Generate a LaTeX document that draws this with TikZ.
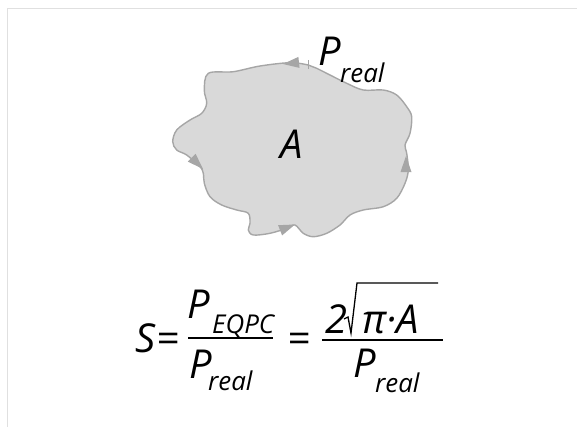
\documentclass[tikz,border=0pt]{standalone}
\usepackage{fontspec}
\setmainfont{Open Sans}
\definecolor{blobfill}{HTML}{D9D9D9}
\definecolor{blobline}{HTML}{A6A6A6}
\definecolor{framegray}{HTML}{E0E0E0}
\tikzset{
  big/.style={font=\fontsize{40}{41}\selectfont\itshape, inner sep=0pt, anchor=base west},
  small/.style={font=\fontsize{26}{27}\selectfont\itshape, inner sep=0pt, anchor=base west},
  arrowtri/.style={fill=blobline, draw=none},
  fracline/.style={line width=1.4bp, black},
}
\begin{document}
\begin{tikzpicture}[x=1bp,y=-1bp]
\useasboundingbox (0,0) rectangle (577,427);
% frame
\draw[framegray, line width=1.5bp] (7.5,427) -- (7.5,8.5) -- (577,8.5);
% blob
\draw[blobline, fill=blobfill, line width=1.4bp] plot[smooth cycle, tension=0.55] coordinates {
(308.3,65) (290,62.7) (260,66) (233.3,71.7) (208.3,73.3)
(204.3,90) (206.7,103.3) (201.7,113.3) (190,120) (176.7,130) (172.7,141.7)
(176.7,150) (186.7,155) (200,166.7) (203.3,173.3) (204.3,183.3) (210,196.7)
(221.7,205) (236.7,210) (248.3,213.3) (250,223.3) (248.3,230) (253.3,235)
(270,233.3) (286.7,228.3) (295,225) (303.3,233.3) (313.3,236.7) (326.7,233.3)
(340,225) (350,215) (363.3,210) (383.3,206.7) (396.7,198.3) (405,183.3)
(408.3,170) (406.7,153.3) (405,145) (410,133.3) (411.7,116.7) (406.7,106.7)
(396.7,95) (383.3,90) (363.3,90) (346.7,83.3) (330,75) (316.7,68.3)};
% arrowheads
\fill[arrowtri] (283,64) -- (299.5,67.9) -- (298.4,56.9) -- cycle;
\fill[arrowtri] (203,169) -- (187.8,161.6) -- (195.6,153.8) -- cycle;
\fill[arrowtri] (406,156) -- (400.5,172) -- (411.5,172) -- cycle;
\fill[arrowtri] (295,224.5) -- (282.1,235.4) -- (278.1,225.2) -- cycle;
% tick
\draw[blobline, line width=0.8bp] (308,60) -- (308,69);
% labels
\node[big] (Pr) at (318,65) {P};
\node[small] (Prs) at (340,82) {real};
\node[big] (A) at (280,158) {A};
% formula
\node[big] (S) at (135,352) {S};
\node[big] (eq1) at (156,352) {=};
\coordinate (f1a) at (188,338);
\coordinate (f1b) at (273,338);
\draw[fracline] (f1a) -- (f1b);
\node[big] (Pn) at (187,318) {P};
\node[small] (Pns) at (212,333) {EQPC};
\node[big] (Pd) at (189,378) {P};
\node[small] (Pds) at (208,390) {real};
\node[big] (eq2) at (287,352) {=};
\coordinate (f2a) at (322,340);
\coordinate (f2b) at (443,340);
\draw[fracline] (f2a) -- (f2b);
\node[big] (two) at (325,333) {2};
\coordinate (r1) at (344,319);
\coordinate (r2) at (348,317);
\coordinate (r3) at (351,333);
\coordinate (r4) at (357,283);
\coordinate (r5) at (438,283);
\draw[line width=1.3bp, line join=miter] (r1) -- (r2) -- (r3) -- (r4) -- (r5);
\node[big] (piA) at (362,333) {π·A};
\node[big] (Pd2) at (353,377) {P};
\node[small] (Pd2s) at (375,392) {real};
\end{tikzpicture}
\end{document}
